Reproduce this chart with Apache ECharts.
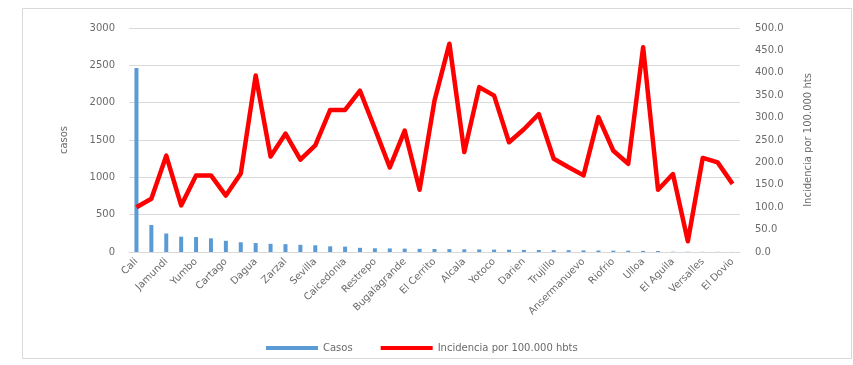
<!DOCTYPE html>
<html>
<head>
<meta charset="utf-8">
<script src="https://cdn.jsdelivr.net/npm/echarts@6/dist/echarts.min.js"></script>
<style>
  html, body { margin: 0; padding: 0; background: #ffffff; }
  #chart { width: 853px; height: 365px; }
</style>
</head>
<body>
<div id="chart"></div>
<script>
// Municipios (ordenados por número de casos)
const municipios = [
  'Cali', 'Palmira', 'Jamundi', 'Tulua', 'Yumbo', 'Buga', 'Cartago', 'Candelaria',
  'Dagua', 'Florida', 'Zarzal', 'Pradera', 'Sevilla', 'Roldanillo', 'Caicedonia', 'La Union',
  'Restrepo', 'Andalucia', 'Bugalagrande', 'Ginebra', 'El Cerrito', 'Guacari', 'Alcala', 'San Pedro',
  'Yotoco', 'Toro', 'Darien', 'Obando', 'Trujillo', 'La Victoria', 'Ansermanuevo', 'El Cairo',
  'Riofrio', 'Argelia', 'Ulloa', 'Bolivar', 'El Aguila', 'Vijes', 'Versalles', 'La Cumbre',
  'El Dovio'
];

// Casos por municipio
const casos = [
  2465, 362, 248, 205, 200, 183, 150, 130,
  120, 110, 105, 96, 90, 76, 72, 56,
  50, 48, 45, 42, 40, 38, 36, 34,
  32, 30, 28, 27, 25, 24, 22, 20,
  18, 17, 15, 13, 4, 3, 2, 2,
  1
];

// Incidencia por 100.000 habitantes
const incidencia = [
  100, 119, 215, 104, 171, 171, 126, 175,
  394, 213, 264, 206, 238, 317, 317, 360,
  275, 189, 271, 139, 338, 465, 223, 368,
  349, 245, 274, 308, 208, 189, 171, 301,
  226, 197, 457, 139, 174, 24, 210, 200,
  152
];

const axisText = { color: '#6b6b6b', fontFamily: 'DejaVu Sans', fontSize: 10 };

const chart = echarts.init(document.getElementById('chart'), null, { renderer: 'canvas' });

chart.setOption({
  backgroundColor: '#ffffff',
  animation: false,
  graphic: [{
    type: 'rect',
    left: 20, top: 6,
    shape: { width: 829, height: 350 },
    style: { fill: 'none', stroke: '#d9d9d9', lineWidth: 1 },
    silent: true, z: -1
  }],
  grid: { left: 129, right: 113, top: 28, bottom: 113 },
  legend: {
    left: 261, top: 338,
    itemWidth: 52, itemHeight: 4,
    itemGap: 28,
    icon: 'rect',
    textStyle: { color: '#6b6b6b', fontFamily: 'DejaVu Sans', fontSize: 10 },
    data: ['Casos', 'Incidencia por 100.000 hbts']
  },
  xAxis: {
    type: 'category',
    data: municipios,
    axisLine: { lineStyle: { color: '#d9d9d9' } },
    axisTick: { show: false },
    axisLabel: Object.assign({ interval: 1, rotate: 45, margin: 8 }, axisText)
  },
  yAxis: [{
    type: 'value',
    min: 0, max: 3000, interval: 500,
    name: 'casos',
    nameLocation: 'middle',
    nameRotate: 90,
    nameGap: 60,
    nameTextStyle: { color: '#6b6b6b', fontFamily: 'DejaVu Sans', fontSize: 10 },
    axisLine: { show: false },
    axisTick: { show: false },
    axisLabel: Object.assign({ margin: 14, formatter: v => String(v) }, axisText),
    splitLine: { lineStyle: { color: '#d9d9d9', width: 1 } }
  }, {
    type: 'value',
    min: 0, max: 500, interval: 50,
    position: 'right',
    name: 'Incidencia por 100.000 hts',
    nameLocation: 'middle',
    nameRotate: 90,
    nameGap: 63,
    nameTextStyle: { color: '#6b6b6b', fontFamily: 'DejaVu Sans', fontSize: 10 },
    axisLine: { show: false },
    axisTick: { show: false },
    axisLabel: Object.assign({ margin: 15, formatter: v => v.toFixed(1) }, axisText),
    splitLine: { show: false }
  }],
  series: [{
    name: 'Casos',
    type: 'bar',
    yAxisIndex: 0,
    data: casos,
    barWidth: 4,
    itemStyle: { color: '#5b9bd5' }
  }, {
    name: 'Incidencia por 100.000 hbts',
    type: 'line',
    yAxisIndex: 1,
    data: incidencia,
    symbol: 'none',
    lineStyle: { color: '#ff0000', width: 4.5, join: 'round' },
    itemStyle: { color: '#ff0000' }
  }]
});
</script>
</body>
</html>
